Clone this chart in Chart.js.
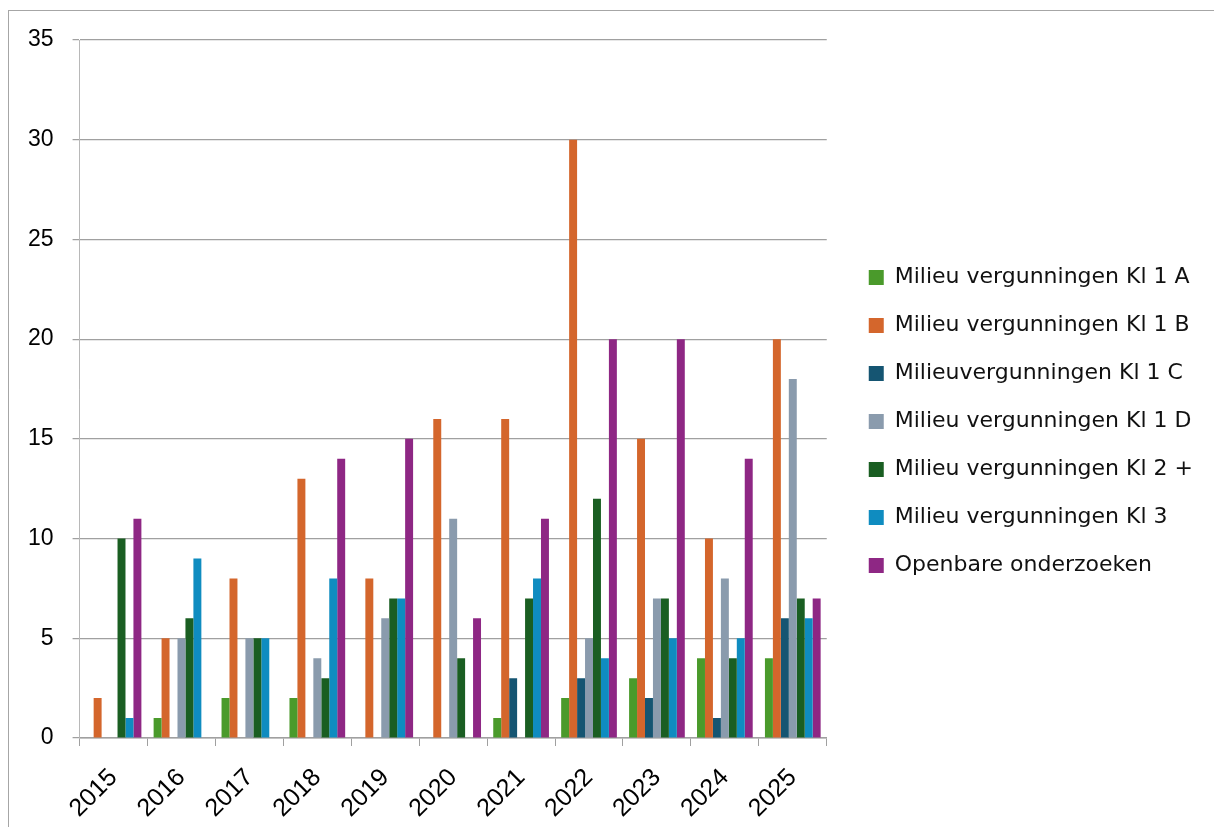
<!DOCTYPE html>
<html>
<head>
<meta charset="utf-8">
<script src="https://cdn.jsdelivr.net/npm/chart.js@4"></script>
<style>
  html, body { margin: 0; padding: 0; background: #fff; }
  #wrap { position: relative; width: 1214px; height: 827px; overflow: hidden; }
  #frame { position: absolute; left: 8px; top: 10px; right: -2px; bottom: -2px; border-left: 1px solid #a6a6a6; border-top: 1px solid #a6a6a6; }
  canvas { position: absolute; left: 0; top: 0; }
</style>
</head>
<body>
<div id="wrap">
  <div id="frame"></div>
  <canvas id="chart" width="1214" height="827"></canvas>
</div>
<script>
// jaren op de x-as
const jaren = ['2015', '2016', '2017', '2018', '2019', '2020', '2021', '2022', '2023', '2024', '2025'];

// aantallen per reeks
const kl1A   = [0, 1, 2, 2, 0, 0, 1, 2, 3, 4, 4];
const kl1B   = [2, 5, 8, 13, 8, 16, 16, 30, 15, 10, 20];
const kl1C   = [0, 0, 0, 0, 0, 0, 3, 3, 2, 1, 6];
const kl1D   = [0, 5, 5, 4, 6, 11, 0, 5, 7, 8, 18];
const kl2    = [10, 6, 5, 3, 7, 4, 7, 12, 7, 4, 7];
const kl3    = [1, 9, 5, 8, 7, 0, 8, 4, 5, 5, 6];
const openb  = [11, 0, 0, 14, 15, 6, 11, 20, 20, 14, 7];

const reeksen = [
  { label: 'Milieu vergunningen Kl 1 A', data: kl1A, kleur: '#4a9a2b' },
  { label: 'Milieu vergunningen Kl 1 B', data: kl1B, kleur: '#d4662c' },
  { label: 'Milieuvergunningen Kl 1 C', data: kl1C, kleur: '#155572' },
  { label: 'Milieu vergunningen Kl 1 D', data: kl1D, kleur: '#8a9bad' },
  { label: 'Milieu vergunningen Kl 2 +', data: kl2, kleur: '#1a5e22' },
  { label: 'Milieu vergunningen Kl 3', data: kl3, kleur: '#0f8cc0' },
  { label: 'Openbare onderzoeken', data: openb, kleur: '#8e2784' },
];

const asFont = size => ({ family: '"Liberation Sans", Arial, sans-serif', size });

// legenda iets hoger centreren dan het volle canvas
const legendaOmhoog = {
  id: 'legendaOmhoog',
  afterLayout(chart) { chart.legend.bottom -= 24; }
};

new Chart(document.getElementById('chart'), {
  type: 'bar',
  data: {
    labels: jaren,
    datasets: reeksen.map(r => ({
      label: r.label,
      data: r.data,
      backgroundColor: r.kleur,
      borderWidth: 0,
      categoryPercentage: 0.82,
      barPercentage: 1,
    }))
  },
  plugins: [legendaOmhoog],
  options: {
    responsive: false,
    animation: false,
    layout: { padding: { left: 9, top: 40, right: 11, bottom: 0 } },
    plugins: {
      tooltip: { enabled: false },
      legend: {
        position: 'right',
        maxWidth: 420,
        labels: {
          boxWidth: 15,
          boxHeight: 15,
          padding: 26,
          color: '#111',
          font: { family: '"DejaVu Sans", sans-serif', size: 22 }
        }
      }
    },
    scales: {
      x: {
        grid: { drawOnChartArea: false, drawTicks: true, tickLength: 8, color: '#a0a0a0' },
        border: { color: '#a0a0a0', width: 1.5 },
        ticks: { color: '#000', font: asFont(25), minRotation: 45, maxRotation: 45, padding: 17 },
        // vaste hoogte zodat de plot op dezelfde plek eindigt
        afterFit: s => { s.paddingLeft = 0; s.paddingRight = 0; s.height = 89; }
      },
      y: {
        min: 0,
        max: 35,
        ticks: { stepSize: 5, color: '#000', font: asFont(23), padding: 19 },
        grid: { color: '#a0a0a0', lineWidth: 1.25, tickLength: 7 },
        border: { color: '#b8b8b8', width: 1 }
      },
      rechts: {
        position: 'right',
        min: 0,
        max: 35,
        grid: { display: false },
        ticks: { display: false },
        border: { display: false },
        afterFit: s => { s.width = 16; }
      }
    }
  }
});
</script>
</body>
</html>
